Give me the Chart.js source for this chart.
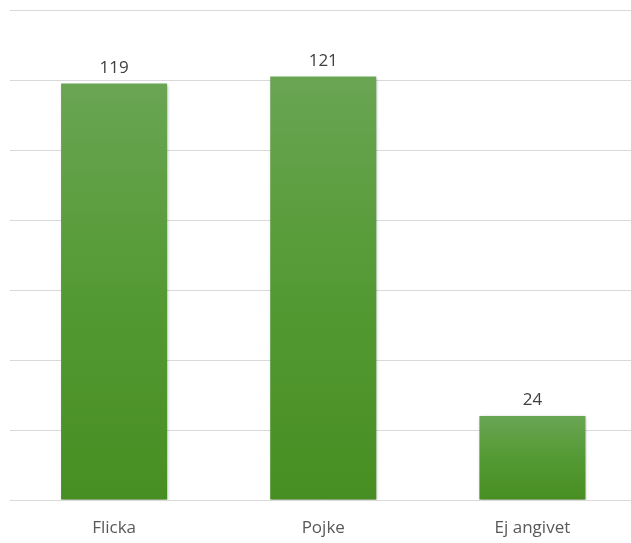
<!DOCTYPE html>
<html>
<head>
<meta charset="utf-8">
<script src="https://cdn.jsdelivr.net/npm/chart.js"></script>
<style>
  html, body { margin: 0; padding: 0; background: #fff; overflow: hidden; }
  #wrap { width: 637px; height: 543px; }
  canvas { display: block; }
</style>
</head>
<body>
<div id="wrap"><canvas id="chart" width="637" height="543"></canvas></div>
<script>
const categories = ['Flicka', 'Pojke', 'Ej angivet'];
const counts = [119, 121, 24];
const yTicks = [0, 20, 40, 60, 80, 100, 120, 140];

const FONT = '"Open Sans", Lato, sans-serif';

// per-bar vertical gradient, light at top, darker at base
function barFill(c) {
  const chart = c.chart;
  const y = chart.scales.y;
  if (!y || c.raw == null) return '#4f9230';
  const top = y.getPixelForValue(c.raw);
  const bot = y.getPixelForValue(0);
  if (!isFinite(top) || !isFinite(bot) || top === bot) return '#4f9230';
  const g = chart.ctx.createLinearGradient(0, top, 0, bot);
  g.addColorStop(0, '#6aa553');
  g.addColorStop(0.5, '#549a34');
  g.addColorStop(1, '#478e22');
  return g;
}

const barShadow = {
  id: 'barShadow',
  beforeDatasetsDraw(chart) {
    const ctx = chart.ctx;
    ctx.save();
    ctx.shadowColor = 'rgba(0,0,0,0.3)';
    ctx.shadowBlur = 3;
    ctx.shadowOffsetX = 1;
    ctx.shadowOffsetY = 1;
  },
  afterDatasetsDraw(chart) {
    chart.ctx.restore();
  }
};

const valueLabels = {
  id: 'valueLabels',
  afterDatasetsDraw(chart) {
    const ctx = chart.ctx;
    const meta = chart.getDatasetMeta(0);
    ctx.save();
    ctx.font = '17px ' + FONT;
    ctx.fillStyle = '#404040';
    ctx.textAlign = 'center';
    ctx.textBaseline = 'alphabetic';
    meta.data.forEach((bar, i) => {
      ctx.fillText(String(counts[i]), bar.x, bar.y - 11);
    });
    ctx.restore();
  }
};

const chart = new Chart(document.getElementById('chart'), {
  type: 'bar',
  data: {
    labels: categories,
    datasets: [{
      data: counts,
      backgroundColor: barFill,
      borderWidth: 0,
      barPercentage: 0.507,
      categoryPercentage: 1
    }]
  },
  options: {
    responsive: false,
    animation: false,
    layout: { padding: { top: 10, bottom: 0, left: 9.5, right: 0 } },
    plugins: { legend: { display: false }, tooltip: { enabled: false } },
    scales: {
      x: {
        grid: { display: false, drawTicks: false },
        border: { display: false },
        ticks: {
          padding: 18,
          maxRotation: 0,
          color: '#595959',
          font: { family: FONT, size: 17 }
        },
        afterFit(scale) { scale.height = 43; }
      },
      y: {
        min: yTicks[0],
        max: yTicks[yTicks.length - 1],
        afterBuildTicks(scale) { scale.ticks = yTicks.map(v => ({ value: v })); },
        ticks: { display: false },
        grid: { color: '#d9d9d9', lineWidth: 1, drawTicks: false },
        border: { display: false }
      }
    }
  },
  plugins: [barShadow, valueLabels]
});
// second pass so the gradients get real pixel positions
chart.update();
</script>
</body>
</html>
